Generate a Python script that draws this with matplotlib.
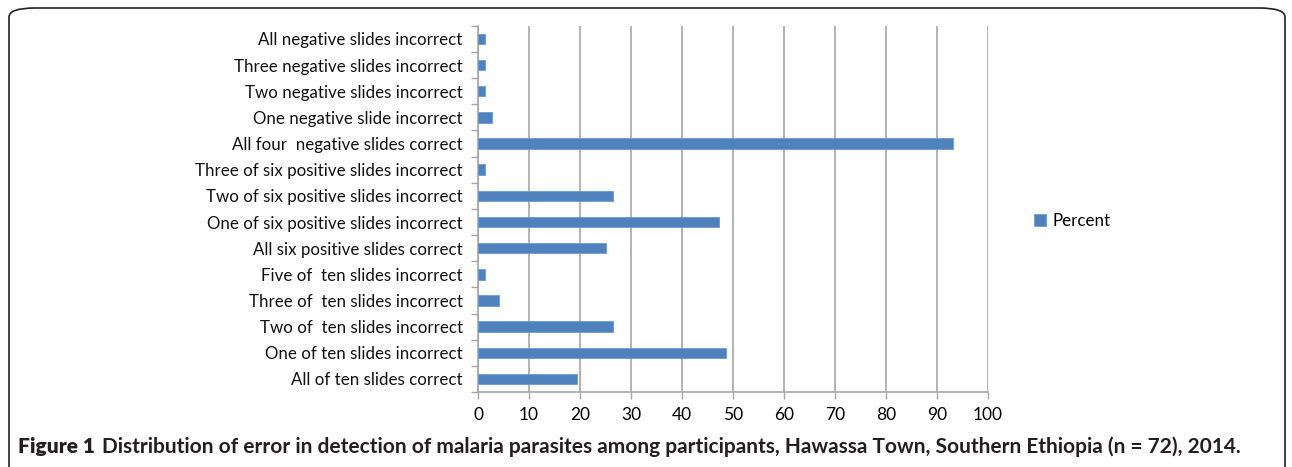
import matplotlib
matplotlib.use("Agg")
from matplotlib import pyplot as plt
from matplotlib import font_manager
import matplotlib.patches as mpatches
import numpy as np

# categories listed bottom -> top
categories = ['All of ten slides correct',
              'One of ten slides incorrect',
              'Two of  ten slides incorrect',
              'Three of  ten slides incorrect',
              'Five of  ten slides incorrect',
              'All six positive slides correct',
              'One of six positive slides incorrect',
              'Two of six positive slides incorrect',
              'Three of six positive slides incorrect',
              'All four  negative slides correct',
              'One negative slide incorrect',
              'Two negative slides incorrect',
              'Three negative slides incorrect',
              'All negative slides incorrect']
percent = [19.4, 48.6, 26.4, 4.2, 1.4,
           25.0, 47.2, 26.4, 1.4,
           93.1, 2.8, 1.4, 1.4, 1.4]
xticks = list(range(0, 101, 10))

names = {f.name for f in font_manager.fontManager.ttflist}
label_font = 'Lato' if 'Lato' in names else 'DejaVu Sans'

bar_col = '#4F81BD'
grid_col = '#A6A6A6'

fig = plt.figure(figsize=(12.92, 4.67), dpi=100)
ax = fig.add_axes([0.370, 0.1606, 0.3947, 0.784])

y = np.arange(len(categories))
ax.barh(y, percent, height=0.4, color=bar_col, edgecolor='#6E9AD0', linewidth=0.6,
        label='Percent', zorder=3)

ax.set_xlim(0, 100)
ax.set_ylim(-0.5, len(categories) - 0.5)
ax.set_xticks(xticks)
ax.set_xticklabels([str(t) for t in xticks], fontsize=12.5, family=label_font)
ax.set_yticks(y)
ax.set_yticklabels(categories, fontsize=12.2, family=label_font, color='#111111')
ax.set_yticks(np.arange(-0.5, len(categories), 1), minor=True)
ax.tick_params(axis='y', which='major', length=0, pad=11)
ax.tick_params(axis='y', which='minor', length=5, color=grid_col, width=1)
ax.tick_params(axis='x', length=5, color=grid_col, width=1, pad=6)

ax.grid(axis='x', color=grid_col, linewidth=1.2, zorder=0)
for s in ['top', 'right']:
    ax.spines[s].set_visible(False)
for s in ['left', 'bottom']:
    ax.spines[s].set_color(grid_col)
    ax.spines[s].set_linewidth(1.2)

ax.legend(loc='center left', bbox_to_anchor=(1.06, 0.467), frameon=False,
          handlelength=0.7, handleheight=0.7, handletextpad=0.4,
          prop={'family': label_font, 'size': 12.2})

# rounded frame
frame = mpatches.FancyBboxPatch((9 / 1292, -0.02), 1276 / 1292, 1 - 8 / 467 + 0.02,
                                boxstyle='round,pad=0,rounding_size=0.02',
                                transform=fig.transFigure, fill=False,
                                edgecolor='#222222', linewidth=1.2, mutation_aspect=467 / 1292 * 2.7)
fig.patches.append(frame)

cap1 = fig.text(18 / 1292, 1 - 447 / 467, 'Figure 1', fontsize=15, fontweight='heavy',
                family=label_font, va='center', ha='left', color='#231F20')
ax.annotate('Distribution of error in detection of malaria parasites among participants, '
            'Hawassa Town, Southern Ethiopia (n = 72), 2014.',
            xy=(1, 0.5), xycoords=cap1, xytext=(5, 0), textcoords='offset points',
            fontsize=15, fontweight='bold', family=label_font, va='center', ha='left',
            color='#231F20', annotation_clip=False)

fig.savefig('out.png', dpi=100)
